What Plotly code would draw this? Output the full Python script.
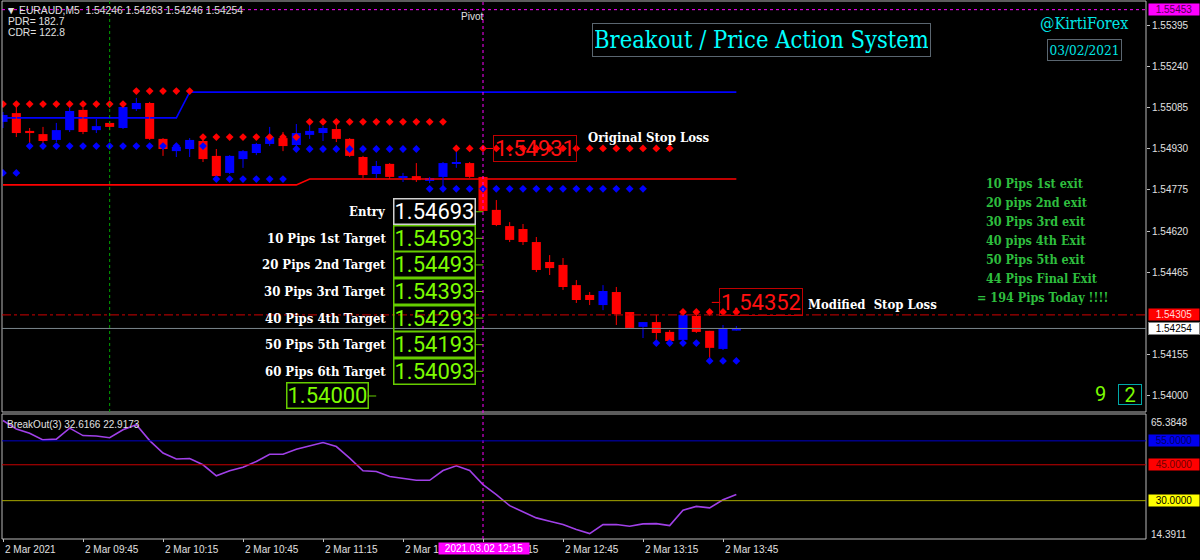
import plotly.graph_objects as go

# ---------------- data ----------------
tick_bars = [0, 6, 12, 18, 24, 30, 36, 42, 48, 54]
tick_labels = ["2 Mar 2021", "2 Mar 09:45", "2 Mar 10:15", "2 Mar 10:45", "2 Mar 11:15",
               "2 Mar 11:45", "2 Mar 12:15", "2 Mar 12:45", "2 Mar 13:15", "2 Mar 13:45"]

opens = [1.55031, 1.55064, 1.54997, 1.54985, 1.54963, 1.55000, 1.55076, 1.55000, 1.55027, 1.55008,
         1.55079, 1.55102, 1.54967, 1.54921, 1.54929, 1.54959, 1.54903, 1.54839, 1.54891, 1.54914,
         1.54948, 1.54970, 1.54944, 1.54982, 1.54989, 1.55004, 1.54967, 1.54899, 1.54835, 1.54873,
         1.54820, 1.54827, 1.54809, 1.54824, 1.54876, 1.54876, 1.54824, 1.54700, 1.54639, 1.54628,
         1.54579, 1.54504, 1.54493, 1.54417, 1.54380, 1.54342, 1.54391, 1.54316, 1.54260, 1.54278,
         1.54241, 1.54211, 1.54301, 1.54245, 1.54177, 1.54246]
highs = [1.55068, 1.55087, 1.55008, 1.55012, 1.55027, 1.55094, 1.55083, 1.55042, 1.55034, 1.55091,
         1.55121, 1.55106, 1.54970, 1.54952, 1.54970, 1.54963, 1.54929, 1.54906, 1.54925, 1.54952,
         1.55012, 1.54993, 1.55023, 1.55027, 1.55015, 1.55027, 1.54970, 1.54903, 1.54884, 1.54876,
         1.54839, 1.54876, 1.54824, 1.54880, 1.54918, 1.54880, 1.54827, 1.54737, 1.54654, 1.54647,
         1.54598, 1.54530, 1.54519, 1.54436, 1.54391, 1.54417, 1.54410, 1.54316, 1.54278, 1.54305,
         1.54248, 1.54312, 1.54308, 1.54245, 1.54267, 1.54263]
lows = [1.55008, 1.54974, 1.54952, 1.54944, 1.54955, 1.54993, 1.54985, 1.54989, 1.55000, 1.55004,
        1.55072, 1.54963, 1.54903, 1.54899, 1.54899, 1.54880, 1.54824, 1.54835, 1.54858, 1.54906,
        1.54940, 1.54921, 1.54940, 1.54967, 1.54959, 1.54955, 1.54899, 1.54820, 1.54820, 1.54816,
        1.54805, 1.54805, 1.54801, 1.54782, 1.54858, 1.54820, 1.54692, 1.54639, 1.54579, 1.54568,
        1.54466, 1.54455, 1.54399, 1.54350, 1.54342, 1.54323, 1.54267, 1.54252, 1.54218, 1.54211,
        1.54203, 1.54207, 1.54237, 1.54135, 1.54173, 1.54246]
closes = [1.55057, 1.54989, 1.54989, 1.54959, 1.55000, 1.55072, 1.54993, 1.55015, 1.55012, 1.55087,
          1.55102, 1.54967, 1.54929, 1.54937, 1.54963, 1.54891, 1.54827, 1.54903, 1.54921, 1.54948,
          1.54974, 1.54940, 1.54989, 1.54997, 1.55008, 1.54967, 1.54903, 1.54831, 1.54865, 1.54824,
          1.54827, 1.54812, 1.54820, 1.54876, 1.54880, 1.54824, 1.54696, 1.54643, 1.54587, 1.54579,
          1.54474, 1.54481, 1.54410, 1.54361, 1.54361, 1.54395, 1.54308, 1.54256, 1.54278, 1.54237,
          1.54207, 1.54305, 1.54241, 1.54181, 1.54252, 1.54254]

red_dots = [1.55098, 1.55098, 1.55098, 1.55098, 1.55098, 1.55098, 1.55098, 1.55098, 1.55098, 1.55098,
            1.55147, 1.55147, 1.55147, 1.55147, 1.55147, 1.54974, 1.54974, 1.54974, 1.54974, 1.54974,
            1.54974, 1.54974, 1.54974, 1.55031, 1.55031, 1.55031, 1.55031, 1.55031, 1.55031, 1.55031,
            1.55031, 1.55031, 1.55031, 1.55031, 1.54931, 1.54931, 1.54931, 1.54931, 1.54931, 1.54931,
            1.54931, 1.54931, 1.54931, 1.54931, 1.54931, 1.54931, 1.54931, 1.54931, 1.54931, 1.54931,
            1.54931, 1.54316, 1.54316, 1.54316, 1.54316, 1.54316]
blue_dots = [1.54839, 1.54839, 1.54940, 1.54940, 1.54940, 1.54940, 1.54940, 1.54940, 1.54940, 1.54940,
             1.54940, 1.54940, 1.54940, 1.54940, 1.54940, 1.54940, 1.54816, 1.54816, 1.54816, 1.54816,
             1.54816, 1.54816, 1.54929, 1.54929, 1.54929, 1.54929, 1.54929, 1.54929, 1.54929, 1.54929,
             1.54929, 1.54929, 1.54779, 1.54779, 1.54779, 1.54779, 1.54779, 1.54779, 1.54779, 1.54779,
             1.54779, 1.54779, 1.54779, 1.54779, 1.54779, 1.54779, 1.54779, 1.54779, 1.54779, 1.54199,
             1.54199, 1.54199, 1.54199, 1.54132, 1.54132, 1.54132]
blue_channel = [1.55046, 1.55046, 1.55046, 1.55046, 1.55046, 1.55046, 1.55046, 1.55046, 1.55046, 1.55046,
                1.55046, 1.55046, 1.55046, 1.55046, 1.55143, 1.55143, 1.55143, 1.55143, 1.55143, 1.55143,
                1.55143, 1.55143, 1.55143, 1.55143, 1.55143, 1.55143, 1.55143, 1.55143, 1.55143, 1.55143,
                1.55143, 1.55143, 1.55143, 1.55143, 1.55143, 1.55143, 1.55143, 1.55143, 1.55143, 1.55143,
                1.55143, 1.55143, 1.55143, 1.55143, 1.55143, 1.55143, 1.55143, 1.55143, 1.55143, 1.55143,
                1.55143, 1.55143, 1.55143, 1.55143, 1.55143, 1.55143]
red_channel = [1.54794, 1.54794, 1.54794, 1.54794, 1.54794, 1.54794, 1.54794, 1.54794, 1.54794, 1.54794,
               1.54794, 1.54794, 1.54794, 1.54794, 1.54794, 1.54794, 1.54794, 1.54794, 1.54794, 1.54794,
               1.54794, 1.54794, 1.54794, 1.54816, 1.54816, 1.54816, 1.54816, 1.54816, 1.54816, 1.54816,
               1.54816, 1.54816, 1.54816, 1.54816, 1.54816, 1.54816, 1.54816, 1.54816, 1.54816, 1.54816,
               1.54816, 1.54816, 1.54816, 1.54816, 1.54816, 1.54816, 1.54816, 1.54816, 1.54816, 1.54816,
               1.54816, 1.54816, 1.54816, 1.54816, 1.54816, 1.54816]
breakout = [63.5, 59.9, 58.2, 55.4, 55.7, 60.3, 57.2, 57.0, 56.3, 59.6,
            61.7, 55.1, 49.9, 47.4, 47.6, 45.0, 40.4, 42.5, 44.0, 46.4,
            49.4, 49.4, 51.5, 52.9, 54.3, 52.6, 47.8, 42.5, 42.2, 40.1,
            39.3, 38.5, 38.5, 42.6, 44.6, 42.6, 36.7, 32.5, 27.9, 25.5,
            22.8, 21.4, 20.0, 17.9, 16.25, 20.0, 20.0, 19.3, 20.3, 20.4,
            19.6, 26.0, 27.6, 27.0, 30.4, 32.6]

price_ticks = [1.55395, 1.55240, 1.55085, 1.54930, 1.54775, 1.54620, 1.54465, 1.54155, 1.54000]
pivot_price = 1.55453
stop_line_price = 1.54305
bid_price = 1.54254
entry_bar = 36
vline_bar = 8
target_names = ["Entry", "10 Pips 1st Target", "20 Pips 2nd Target", "30 Pips 3rd Target",
                "40 Pips 4th Target", "50 Pips 5th Target", "60 Pips 6th Target"]
target_prices = [1.54693, 1.54593, 1.54493, 1.54393, 1.54293, 1.54193, 1.54093]
final_target = 1.54000
original_stop = 1.54931
modified_stop = 1.54352
exit_lines = ["10 Pips 1st exit", "20 pips 2nd exit", "30 Pips 3rd exit", "40 pips 4th Exit",
              "50 Pips 5th exit", "44 Pips Final Exit", "= 194 Pips Today !!!!"]
ind_levels = [55.0, 45.0, 30.0]
ind_min, ind_max = 14.3911, 65.3848

# ---------------- layout helpers ----------------
W, H = 1200, 560
ML, MR, MT, MB = 2, 54, 1, 21
PW, PH = W - ML - MR, H - MT - MB
def fx(p):
    return (p - ML) / PW
def fy(p):
    return (H - MB - p) / PH
BAR0, STEP = 3.0, 40.0 / 3.0
def bx(p):
    return (p - BAR0) / STEP
x_range = [bx(ML), bx(W - MR)]
y_range = [1.539398, 1.554856]

SERIF = "DejaVu Serif Condensed, DejaVu Serif"
NUMF = "Roboto, Liberation Sans"
UI = "Liberation Sans, DejaVu Sans"

bars = list(range(len(opens)))
fig = go.Figure()

# channel lines
fig.add_trace(go.Scatter(x=bars, y=blue_channel, mode="lines", line=dict(color="#0000FF", width=1.6),
                         hoverinfo="skip"))
fig.add_trace(go.Scatter(x=bars, y=red_channel, mode="lines", line=dict(color="#FF0000", width=1.6),
                         hoverinfo="skip"))

# candles
up = [i for i in bars if closes[i] >= opens[i]]
dn = [i for i in bars if closes[i] < opens[i]]
MINB = 0.00004
for idx, col in ((up, "#0000FF"), (dn, "#FF0000")):
    wx, wy = [], []
    for i in idx:
        wx += [i, i, None]
        wy += [lows[i], highs[i], None]
    fig.add_trace(go.Scatter(x=wx, y=wy, mode="lines", line=dict(color=col, width=1), hoverinfo="skip"))
    fig.add_trace(go.Bar(x=idx, base=[min(opens[i], closes[i]) for i in idx],
                         y=[max(abs(closes[i] - opens[i]), MINB) for i in idx],
                         width=0.68, marker=dict(color=col, line=dict(width=0)), hoverinfo="skip"))

# dots
fig.add_trace(go.Scatter(x=bars, y=red_dots, mode="markers",
                         marker=dict(symbol="diamond", size=6, color="#FF0000"), hoverinfo="skip"))
fig.add_trace(go.Scatter(x=bars, y=blue_dots, mode="markers",
                         marker=dict(symbol="diamond", size=6, color="#0000FF"), hoverinfo="skip"))

# small price-label arrows
fig.add_trace(go.Scatter(x=[bx(479)] * len(target_prices) + [bx(372)],
                         y=target_prices + [final_target], mode="markers",
                         marker=dict(symbol="line-ew", size=6, line=dict(color="#66CC00", width=1)),
                         hoverinfo="skip"))
fig.add_trace(go.Scatter(x=[bx(490), bx(716)], y=[original_stop, modified_stop], mode="markers",
                         marker=dict(symbol="line-ew", size=6, line=dict(color="#FF0000", width=1)),
                         hoverinfo="skip"))

# indicator
fig.add_trace(go.Scatter(x=bars, y=breakout, mode="lines", line=dict(color="#A040E8", width=1.6),
                         xaxis="x2", yaxis="y2", hoverinfo="skip"))

shapes = []
shapes.append(dict(type="rect", xref="paper", yref="paper", x0=0, x1=1, y0=fy(412), y1=fy(1),
                   line=dict(color="#B8B8B8", width=1)))
shapes.append(dict(type="rect", xref="paper", yref="paper", x0=0, x1=1, y0=fy(539), y1=fy(414),
                   line=dict(color="#B8B8B8", width=1)))
shapes.append(dict(type="line", xref="paper", yref="y", x0=0, x1=1, y0=pivot_price, y1=pivot_price,
                   line=dict(color="#FF00FF", width=1, dash="dot")))
shapes.append(dict(type="line", xref="paper", yref="y", x0=0, x1=1, y0=stop_line_price, y1=stop_line_price,
                   line=dict(color="#D00000", width=1, dash="dashdot")))
shapes.append(dict(type="line", xref="paper", yref="y", x0=0, x1=1, y0=bid_price, y1=bid_price,
                   line=dict(color="#7A858C", width=1)))
shapes.append(dict(type="line", xref="x", yref="paper", x0=entry_bar, x1=entry_bar, y0=0, y1=1,
                   line=dict(color="#FF00FF", width=1, dash="dot")))
shapes.append(dict(type="line", xref="x", yref="paper", x0=vline_bar, x1=vline_bar, y0=fy(412), y1=1,
                   line=dict(color="#00A000", width=1, dash="dot")))
for lv, col in zip(ind_levels, ["#0000C8", "#C80000", "#A8A800"]):
    shapes.append(dict(type="line", xref="paper", yref="y2", x0=0, x1=1, y0=lv, y1=lv,
                       line=dict(color=col, width=1)))

ann = []
def A(text, x, y, xref="paper", yref="paper", xanchor="left", yanchor="middle", size=10,
      color="#E0E0E0", family=UI, **kw):
    ann.append(dict(text=text, x=x, y=y, xref=xref, yref=yref, xanchor=xanchor, yanchor=yanchor,
                    showarrow=False, font=dict(size=size, color=color, family=family), **kw))

# header
A("▼ EURAUD,M5  1.54246 1.54263 1.54246 1.54254", fx(4), fy(10), size=10.3)
A("PDR= 182.7", fx(6), fy(21), size=10.3)
A("CDR= 122.8", fx(6), fy(32), size=10.3)
A("Pivot", fx(459), fy(16), size=10)

# title & credits
A("Breakout / Price Action System", fx(761), fy(40), xanchor="center", size=23.5, color="#00FFFF",
  family=SERIF, bordercolor="#5A6670", borderwidth=1, borderpad=2, width=333, height=28)
A("@KirtiForex", fx(1084), fy(23), xanchor="center", size=16, color="#00E5E5", family=SERIF)
A("03/02/2021", fx(1084), fy(50), xanchor="center", size=13.5, color="#00E5E5", family=SERIF,
  bordercolor="#5A6670", borderwidth=1, borderpad=1, width=71, height=18)

# target labels and boxes
for k, (nm, pr) in enumerate(zip(target_names, target_prices)):
    A("<b>%s</b>" % nm, fx(388), pr, yref="y", xanchor="right", size=13, color="#FFFFFF", family=SERIF)
    A("%.5f" % pr, fx(476), pr, yref="y", xanchor="right", size=22,
      color="#FFFFFF" if k == 0 else "#7CFC00", family=NUMF,
      bordercolor="#D0D0D0" if k == 0 else "#66CC00", borderwidth=1.5, borderpad=0, width=80, height=24)
A("%.5f" % final_target, fx(369), final_target, yref="y", xanchor="right", size=22, color="#7CFC00",
  family=NUMF, bordercolor="#66CC00", borderwidth=1.5, borderpad=0, width=80, height=24)

# stop loss labels
A("%.5f" % original_stop, fx(577), original_stop, yref="y", xanchor="right", size=22, color="#FF1010",
  family=NUMF, bordercolor="#C00000", borderwidth=1, borderpad=0, width=82, height=25)
A("<b>Original Stop Loss</b>", fx(586), fy(137), size=13, color="#FFFFFF", family=SERIF)
A("%.5f" % modified_stop, fx(803), modified_stop, yref="y", xanchor="right", size=22, color="#FF1010",
  family=NUMF, bordercolor="#C00000", borderwidth=1, borderpad=0, width=82, height=26)
A("<b>Modified  Stop Loss</b>", fx(806), fy(304), size=13, color="#FFFFFF", family=SERIF)

# exit summary
for k, t in enumerate(exit_lines):
    A("<b>%s</b>" % t, fx(975 if t.startswith("=") else 984), fy(183 + 19 * k), size=12.5,
      color="#2EBE3E", family=SERIF)

# counters
A("9", fx(1100), fy(394), xanchor="center", size=20, color="#7CFC00", family=NUMF)
A("2", fx(1129.5), fy(394), xanchor="center", size=20, color="#7CFC00", family=NUMF,
  bordercolor="#00A8A8", borderwidth=1, borderpad=0, width=22, height=19)

# right axis colored labels
A("1.55453", fx(1148), pivot_price, yref="y", size=10, color="#500050", bgcolor="#FF00FF",
  borderpad=0, width=50, height=11)
A("1.54305", fx(1148), stop_line_price, yref="y", size=10, color="#FFD8D8", bgcolor="#FF0000",
  borderpad=0, width=50, height=11)
A("1.54254", fx(1148), bid_price, yref="y", size=10, color="#000000", bgcolor="#FFFFFF",
  bordercolor="#808080", borderwidth=1, borderpad=0, width=50, height=11)

# indicator labels
A("BreakOut(3) 32.6166 22.9173", fx(5), fy(424), size=10)
A("65.3848", fx(1149), fy(422), size=10)
A("14.3911", fx(1149), fy(534), size=10)
for lv, bg, fc in zip(ind_levels, ["#0000F0", "#FF0000", "#FFFF00"], ["#000060", "#700000", "#000000"]):
    A("%.4f" % lv, fx(1148), lv, yref="y2", size=10, color=fc, bgcolor=bg, borderpad=0, width=50, height=11)

# time axis labels
for b, t in zip(tick_bars, tick_labels):
    A(t, b - 0.02, fy(549), xref="x2", size=10)
A("2021.03.02 12:15", fx(484), fy(548.5), xanchor="center", size=10, color="#FFFFFF",
  bgcolor="#FF00FF", borderpad=0, width=90, height=11)

fig.update_layout(
    width=W, height=H, margin=dict(l=ML, r=MR, t=MT, b=MB),
    paper_bgcolor="#000000", plot_bgcolor="#000000", showlegend=False, barmode="overlay",
    xaxis=dict(range=x_range, domain=[0, 1], anchor="y", showticklabels=False, showgrid=False,
               zeroline=False, showline=False, ticks=""),
    xaxis2=dict(range=x_range, domain=[0, 1], anchor="y2", showticklabels=False, showgrid=False,
                zeroline=False, showline=False, tickvals=tick_bars, ticks="outside", ticklen=3,
                tickcolor="#C0C0C0"),
    yaxis=dict(range=y_range, domain=[fy(412), 1], side="right", tickvals=price_ticks,
               tickformat=".5f", ticks="outside", ticklen=3, tickcolor="#C0C0C0",
               tickfont=dict(size=10, color="#E0E0E0", family=UI), showgrid=False, zeroline=False,
               showline=False),
    yaxis2=dict(range=[ind_min, ind_max], domain=[fy(538), fy(416)], side="right", showticklabels=False,
                showgrid=False, zeroline=False, showline=False, ticks=""),
    shapes=shapes, annotations=ann,
)

fig.write_html("out.html")
